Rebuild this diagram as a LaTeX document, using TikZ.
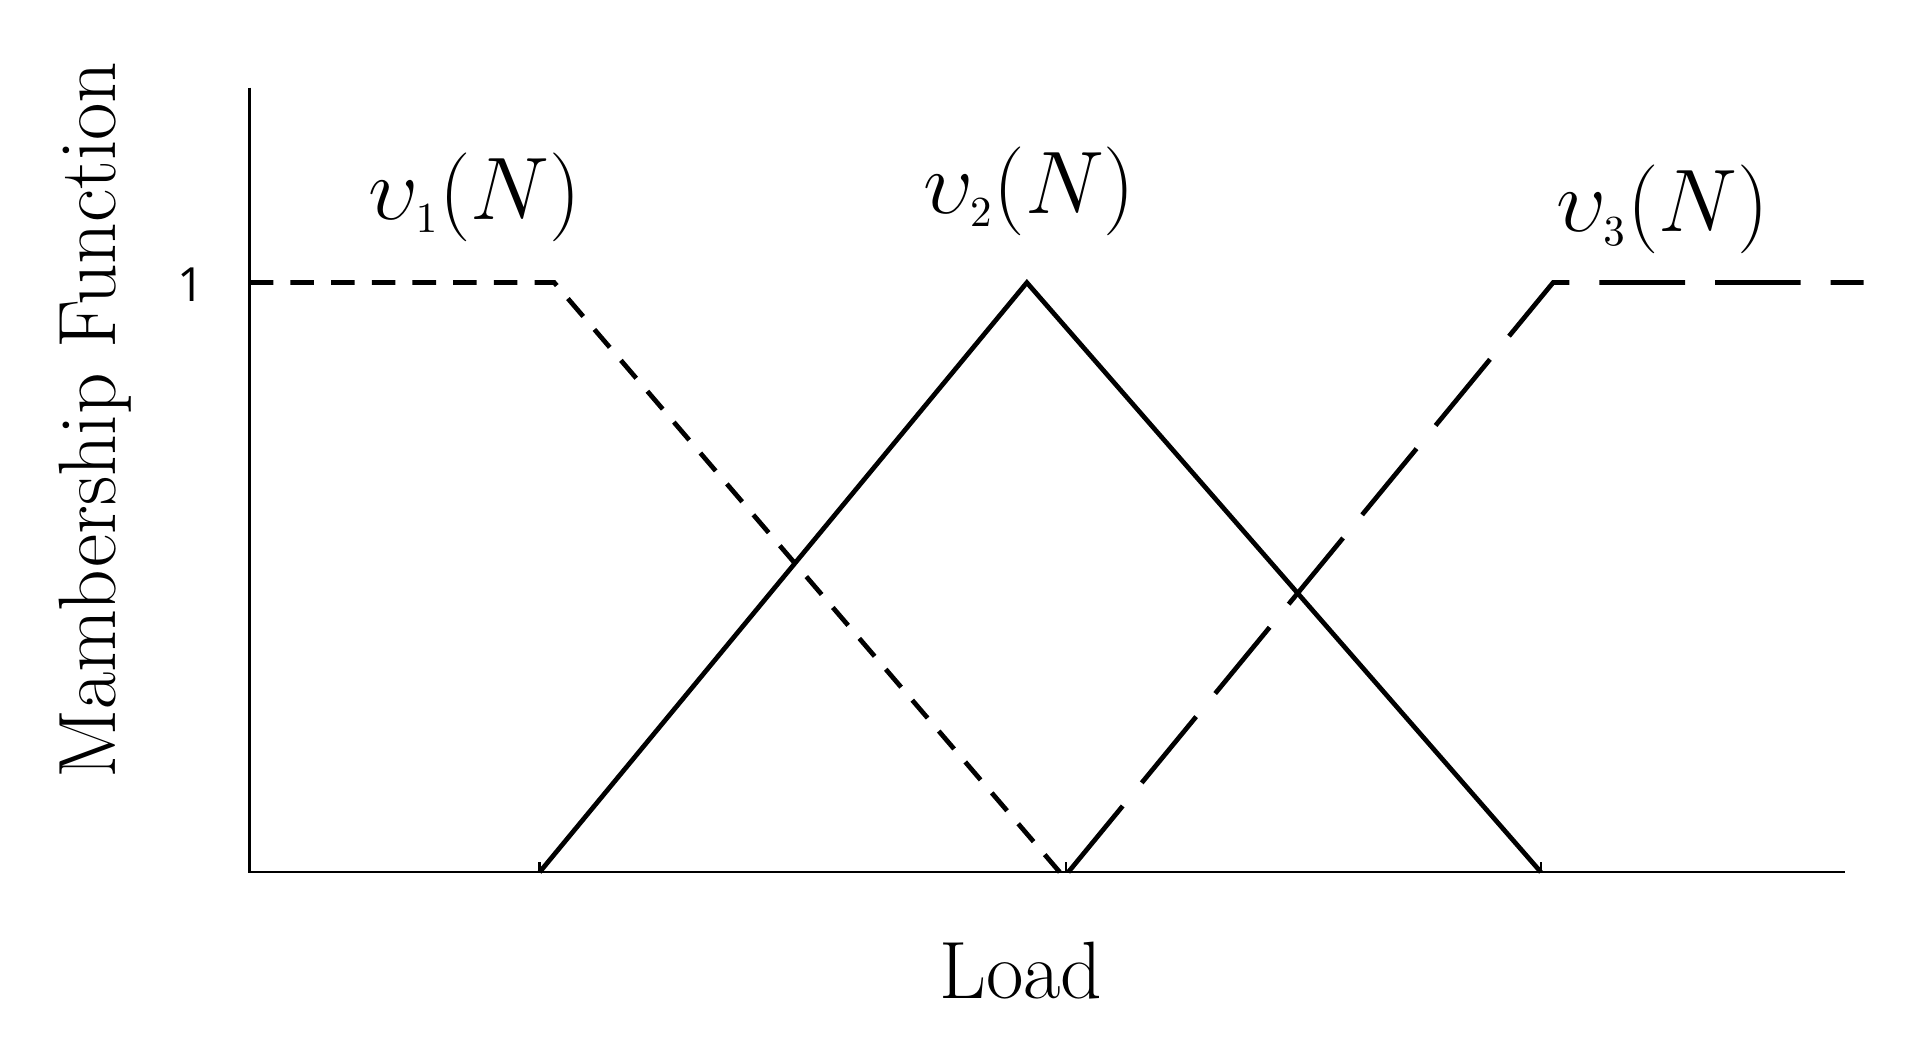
\documentclass[tikz,border=0pt]{standalone}
\usepackage{fontspec}
\newfontfamily\sansone{Open Sans}
\begin{document}
\begin{tikzpicture}[x=0.01cm,y=-0.01cm,
  ax/.style={line width=0.6pt},
  mf/.style={line width=1.1pt},
  lbl/.style={font=\fontsize{20}{24}\selectfont}]
\useasboundingbox (0,0) rectangle (1568,855);
\coordinate (o) at (205,716);
\coordinate (ytop) at (205,72);
\coordinate (xend) at (1515,716);
\draw[ax] (ytop) -- (o) -- (xend);
\foreach \t/\n in {443/ta,875/tb,1265/tc}{\draw[ax] (\t,716) -- (\t,708);}
% v1
\coordinate (a1) at (205,232); \coordinate (a2) at (455,232); \coordinate (a3) at (870,716);
\draw[mf,dash pattern=on 5.5pt off 4pt] (a1) -- (a2) -- (a3);
% v2
\coordinate (b1) at (443,716); \coordinate (b2) at (843,232); \coordinate (b3) at (1265,716);
\draw[mf] (b1) -- (b2) -- (b3);
% v3
\coordinate (c1) at (877,716); \coordinate (c2) at (1275,232); \coordinate (c3) at (1530,232);
\draw[mf,dash pattern=on 20pt off 7pt] (c1) -- (c2) -- (c3);
\node[lbl] (l1) at (390,162) {$\upsilon_{\scriptscriptstyle 1}\Bigl(N\Bigr)$};
\node[lbl] (l2) at (845,157) {$\upsilon_{\scriptscriptstyle 2}\Bigl(N\Bigr)$};
\node[lbl] (l3) at (1365,172) {$\upsilon_{\scriptscriptstyle 3}\Bigl(N\Bigr)$};
\node[font=\sansone\fontsize{11}{13}\selectfont] (one) at (157,234) {1};
\node[font=\fontsize{19}{23}\selectfont] (load) at (838,797) {Load};
\node[font=\fontsize{19}{23}\selectfont,rotate=90] (ylab) at (78,345) {Mambership Function};
\end{tikzpicture}
\end{document}
